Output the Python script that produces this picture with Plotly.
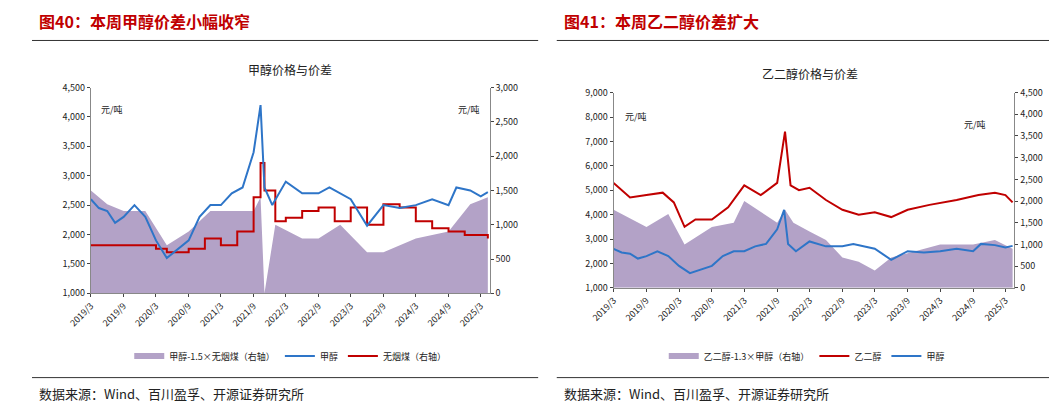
import plotly.graph_objects as go

# Left panel data
m_dates = ["2019-03-01","2019-04-15","2019-06-01","2019-07-15","2019-09-01","2019-11-01","2020-01-01","2020-03-01","2020-05-01","2020-07-01","2020-09-01","2020-11-01","2021-01-01","2021-03-01","2021-05-01","2021-07-01","2021-09-01","2021-10-10","2021-11-01","2021-12-15","2022-03-01","2022-06-01","2022-09-01","2022-11-01","2023-01-01","2023-03-01","2023-06-01","2023-09-01","2023-12-01","2024-03-01","2024-06-01","2024-09-01","2024-10-15","2025-01-01","2025-03-01","2025-04-10"]
methanol = [2600,2450,2400,2200,2300,2500,2300,1900,1600,1750,1900,2300,2500,2500,2700,2800,3400,4200,2800,2500,2900,2700,2700,2800,2700,2600,2150,2500,2450,2500,2600,2500,2800,2750,2650,2720]
c_dates = ["2019-03-01","2019-12-01","2020-03-01","2020-05-01","2020-09-01","2020-12-01","2021-03-01","2021-06-01","2021-09-01","2021-10-10","2021-11-01","2022-01-01","2022-03-01","2022-06-01","2022-09-01","2022-12-01","2023-03-01","2023-06-01","2023-09-01","2023-12-01","2024-03-01","2024-06-01","2024-09-01","2024-12-01","2025-04-10"]
coal = [700,700,650,600,650,800,700,900,1400,1900,1500,1050,1100,1200,1250,1050,1250,1000,1300,1250,1050,950,900,850,800]
s1_dates = ["2019-03-01","2019-06-01","2019-09-01","2020-01-01","2020-05-01","2020-09-01","2021-01-01","2021-06-01","2021-09-01","2021-10-10","2021-11-01","2022-01-01","2022-06-01","2022-09-01","2023-01-01","2023-06-01","2023-09-01","2024-03-01","2024-09-01","2025-01-01","2025-04-10"]
spread1 = [1500,1300,1200,1200,700,900,1200,1200,1200,1400,0,1000,800,800,1000,600,600,800,900,1300,1400]

# Right panel data
g_dates = ["2019-03-01","2019-06-01","2019-09-01","2019-12-01","2020-02-01","2020-04-01","2020-06-01","2020-09-01","2020-12-01","2021-03-01","2021-06-01","2021-09-01","2021-10-15","2021-11-15","2022-01-01","2022-03-01","2022-06-01","2022-09-01","2022-12-01","2023-03-01","2023-06-01","2023-09-01","2024-01-01","2024-06-01","2024-10-01","2025-01-01","2025-03-01","2025-04-10"]
meg = [5300,4700,4800,4900,4500,3500,3800,3800,4300,5200,4800,5300,7400,5200,5000,5100,4600,4200,4000,4100,3900,4200,4400,4600,4800,4900,4800,4500]
s2_dates = ["2019-03-01","2019-09-01","2020-01-01","2020-04-01","2020-09-01","2021-01-01","2021-03-01","2021-09-01","2021-10-15","2021-12-01","2022-03-01","2022-06-01","2022-09-01","2022-12-01","2023-03-01","2023-06-01","2023-09-01","2024-03-01","2024-09-01","2025-01-01","2025-04-10"]
spread2 = [1800,1400,1700,1000,1400,1500,2000,1500,1800,1500,1300,1100,700,600,400,700,800,1000,1000,1100,900]

tick_vals = [f"{y}-{m:02d}-01" for y in range(2019, 2026) for m in (3, 9)][:13]
tick_text = [f"{y}/{m}" for y in range(2019, 2026) for m in (3, 9)][:13]

PURPLE = "#b3a2c7"; BLUE = "#2e75c8"; RED = "#c00000"
F = "Noto Sans CJK SC"
fig = go.Figure()
fig.add_trace(go.Scatter(x=s1_dates, y=spread1, fill="tozeroy", mode="none", fillcolor=PURPLE,
                         name="甲醇-1.5×无烟煤（右轴）", xaxis="x", yaxis="y", legend="legend"))
fig.add_trace(go.Scatter(x=m_dates, y=methanol, mode="lines", line=dict(color=BLUE, width=2),
                         name="甲醇", xaxis="x", yaxis="y2", legend="legend"))
fig.add_trace(go.Scatter(x=c_dates, y=coal, mode="lines", line=dict(color=RED, width=2, shape="hv"),
                         name="无烟煤（右轴）", xaxis="x", yaxis="y", legend="legend"))
fig.add_trace(go.Scatter(x=s2_dates, y=spread2, fill="tozeroy", mode="none", fillcolor=PURPLE,
                         name="乙二醇-1.3×甲醇（右轴）", xaxis="x2", yaxis="y3", legend="legend2"))
fig.add_trace(go.Scatter(x=g_dates, y=meg, mode="lines", line=dict(color=RED, width=2),
                         name="乙二醇", xaxis="x2", yaxis="y4", legend="legend2"))
fig.add_trace(go.Scatter(x=m_dates, y=methanol, mode="lines", line=dict(color=BLUE, width=2),
                         name="甲醇", xaxis="x2", yaxis="y4", legend="legend2"))

ax = dict(showline=True, linecolor="#888", ticks="outside", ticklen=3, tickfont=dict(size=9, family=F), showgrid=False, zeroline=False)
xr = ["2019-03-01", "2025-04-20"]
fig.update_layout(
    width=1057, height=405, margin=dict(l=0, r=0, t=0, b=0), paper_bgcolor="white", plot_bgcolor="white",
    font=dict(family=F, color="#222"), showlegend=True,
    xaxis=dict(ax, domain=[0.057, 0.443], anchor="y", range=xr, tickvals=tick_vals, ticktext=tick_text, tickangle=-45),
    yaxis=dict(ax, domain=[0.29, 0.815], anchor="x", side="right", range=[0, 3000], dtick=500, tickformat=","),
    yaxis2=dict(ax, overlaying="y", side="left", anchor="x", range=[1000, 4500], dtick=500, tickformat=","),
    xaxis2=dict(ax, domain=[0.563, 0.951], anchor="y3", range=xr, tickvals=tick_vals, ticktext=tick_text, tickangle=-45),
    yaxis3=dict(ax, domain=[0.304, 0.802], anchor="x2", side="right", range=[0, 4500], dtick=500, tickformat=","),
    yaxis4=dict(ax, overlaying="y3", side="left", anchor="x2", range=[1000, 9000], dtick=1000, tickformat=","),
    legend=dict(orientation="h", x=0.25, y=0.13, xanchor="center", yanchor="middle", font=dict(size=9), bgcolor="rgba(0,0,0,0)"),
    legend2=dict(orientation="h", x=0.75, y=0.13, xanchor="center", yanchor="middle", font=dict(size=9), bgcolor="rgba(0,0,0,0)"),
)
ann = [
    (0.005, 0.985, "<b>图40：本周甲醇价差小幅收窄</b>", 16, RED, "left"),
    (0.513, 0.985, "<b>图41：本周乙二醇价差扩大</b>", 16, RED, "left"),
    (0.25, 0.86, "甲醇价格与价差", 12, "#222", "center"),
    (0.753, 0.85, "乙二醇价格与价差", 12, "#222", "center"),
    (0.065, 0.76, "元/吨", 9, "#222", "left"),
    (0.41, 0.76, "元/吨", 9, "#222", "left"),
    (0.572, 0.74, "元/吨", 9, "#222", "left"),
    (0.9, 0.72, "元/吨", 9, "#222", "left"),
    (0.005, 0.035, "数据来源：Wind、百川盈孚、开源证券研究所", 13, "#222", "left"),
    (0.513, 0.035, "数据来源：Wind、百川盈孚、开源证券研究所", 13, "#222", "left"),
]
for x, y, t, s, c, a in ann:
    fig.add_annotation(x=x, y=y, xref="paper", yref="paper", text=t, showarrow=False,
                       font=dict(size=s, color=c, family=F), xanchor=a, yanchor="middle")
for x0, x1 in [(0.0, 0.49), (0.508, 1.0)]:
    fig.add_shape(type="line", xref="paper", yref="paper", x0=x0, x1=x1, y0=0.935, y1=0.935, line=dict(color="#333", width=1))
    fig.add_shape(type="line", xref="paper", yref="paper", x0=x0, x1=x1, y0=0.075, y1=0.075, line=dict(color="#333", width=1))
fig.write_html("out.html")
